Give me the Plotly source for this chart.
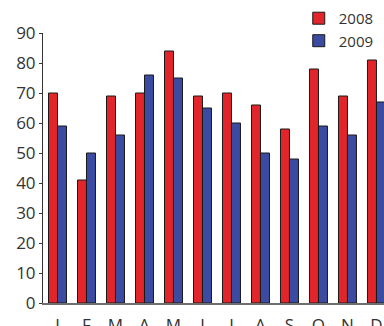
import plotly.graph_objects as go

months = ["J", "F", "M", "A", "M", "J", "J", "A", "S", "O", "N", "D"]
values_2008 = [70, 41, 69, 70, 84, 69, 70, 66, 58, 78, 69, 81]
values_2009 = [59, 50, 56, 76, 75, 65, 60, 50, 48, 59, 56, 67]
y_ticks = [0, 10, 20, 30, 40, 50, 60, 70, 80, 90]

x = list(range(len(months)))
font_family = "Open Sans, Noto Sans, sans-serif"
text_color = "#333333"

fig = go.Figure()
fig.add_trace(go.Bar(
    x=x, y=values_2008, name="2008",
    marker=dict(color="#E2252B", line=dict(color="#1a1a1a", width=1)),
))
fig.add_trace(go.Bar(
    x=x, y=values_2009, name="2009",
    marker=dict(color="#3A4BA1", line=dict(color="#1a1a1a", width=1)),
))

fig.update_layout(
    width=384, height=326,
    margin=dict(l=43, r=0, t=33, b=23, autoexpand=False),
    paper_bgcolor="white", plot_bgcolor="white",
    barmode="group", bargap=0.38, bargroupgap=0,
    font=dict(family=font_family, color=text_color, size=17),
    showlegend=True,
    legend=dict(
        x=0.75, y=1.115, xanchor="left", yanchor="top",
        font=dict(size=15, color=text_color),
        bgcolor="rgba(0,0,0,0)", itemwidth=30, tracegroupgap=0,
    ),
)

fig.update_xaxes(
    range=[-0.5, 11.26], automargin=False,
    tickmode="array", tickvals=x, ticktext=months,
    showline=True, linecolor="#6e6e6e", linewidth=2,
    ticks="outside", ticklen=6, tickcolor="rgba(0,0,0,0)",
    showgrid=False, zeroline=False,
    tickfont=dict(size=17, color=text_color),
)
fig.update_yaxes(
    range=[0, 90], automargin=False,
    tickmode="array", tickvals=y_ticks,
    showline=True, linecolor="#333333", linewidth=1,
    ticks="outside", ticklen=3, tickcolor="#333333", tickwidth=1,
    showgrid=False, zeroline=False,
    tickfont=dict(size=17, color=text_color),
)

fig.write_html("out.html")
